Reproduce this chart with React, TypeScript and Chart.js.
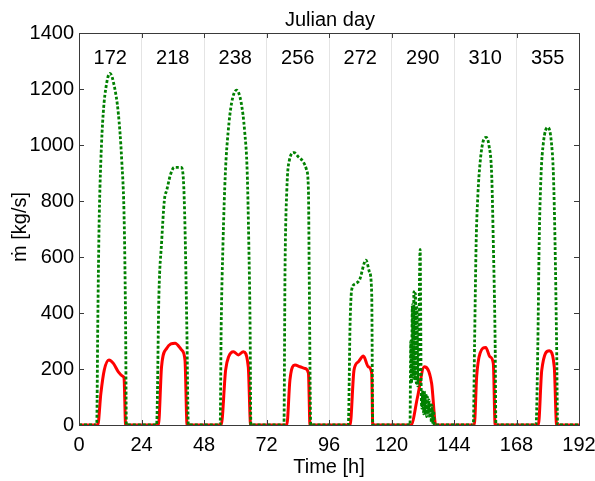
import React, { useEffect, useRef } from 'react';
import { Chart, registerables } from 'chart.js';

Chart.register(...registerables);

const dayLabels = ['172', '218', '238', '256', '272', '290', '310', '355'];
const dayCenters = [12, 36, 60, 84, 108, 132, 156, 180];
const xTickValues = [0, 24, 48, 72, 96, 120, 144, 168, 192];
const yTickValues = [0, 200, 400, 600, 800, 1000, 1200, 1400];

const titleText = 'Julian day';
const xTitleText = 'Time [h]';
const yTitleText = 'ṁ [kg/s]';

// Green dotted series (hours, kg/s)
const greenTime = [
  0, 6.8, 7.2, 7.7, 8.4, 9.3, 10.6, 11.9, 13.6, 15.1, 16.4, 17.4, 17.9, 18.2,
  29.8, 30.7, 31.7, 32.8, 33.7, 35.3, 36.6, 39.2, 40.1, 40.7, 41.4, 42.0,
  54.2, 54.6, 55.3, 56.2, 57.3, 58.6, 60.5, 62.3, 63.6, 64.6, 65.2, 65.7, 66.0,
  78.7, 79.1, 79.8, 80.8, 82.6, 84.2, 86.1, 87.4, 88.1, 88.4, 89.0,
  103.4, 104.1, 104.7, 106.0, 107.7, 110.2, 111.5, 112.4, 112.8,
  127.1, 127.4, 127.7, 128.0, 128.3, 128.6, 128.9, 129.2, 129.5, 129.8, 130.1, 130.5, 131.0, 131.4,
  131.7, 132.0, 132.3, 132.6, 132.9, 133.2, 133.5, 133.8, 134.1, 134.4, 134.7, 135.0, 135.3, 135.6,
  135.9, 136.2, 136.4,
  151.4, 151.9, 152.5, 153.2, 154.0, 155.0, 156.3, 157.4, 158.5, 159.1, 159.8, 160.1,
  175.5, 176.2, 176.7, 177.4, 178.3, 180.0, 181.3, 182.2, 182.8, 183.4, 183.8, 192,
];
const greenValues = [
  0, 0, 351, 708, 946, 1113, 1220, 1256, 1208, 1113, 946, 708, 351, 0,
  0, 470, 649, 804, 839, 899, 920, 920, 875, 708, 351, 0,
  0, 351, 650, 900, 1050, 1150, 1196, 1150, 1050, 900, 650, 351, 0,
  0, 542, 839, 946, 973, 958, 940, 911, 839, 542, 0,
  0, 363, 482, 504, 518, 589, 548, 470, 0,
  0, 300, 150, 430, 170, 476, 160, 470, 150, 420, 140, 350, 627, 130,
  60, 125, 40, 120, 35, 110, 30, 100, 35, 90, 25, 80, 10, 70,
  0, 50, 0,
  0, 292, 649, 827, 935, 1006, 1027, 1000, 887, 649, 292, 0,
  0, 292, 649, 887, 1006, 1063, 1018, 887, 649, 292, 0, 0,
];

// Red solid series (hours, kg/s)
const redTime = [
  0, 7.2, 8.4, 9.7, 11.5, 13.2, 15.1, 17.0, 17.3, 17.9,
  30.5, 31.7, 33.7, 36.9, 39.4, 40.7, 41.5,
  54.6, 56.3, 57.5, 59.3, 61.2, 63.1, 65.0, 65.9,
  79.8, 81.0, 82.9, 84.9, 86.8, 88.1, 88.7,
  104.1, 105.6, 107.3, 109.2, 111.1, 112.4, 112.8,
  127.5, 130.0, 132.6, 135.4, 137.0,
  151.8, 152.7, 154.0, 156.2, 157.8, 159.1, 159.8,
  176.4, 177.7, 180.6, 182.5, 183.4, 192,
];
const redValues = [
  0, 0, 113, 196, 232, 220, 190, 173, 168, 0,
  0, 208, 274, 292, 268, 232, 0,
  0, 196, 245, 262, 250, 262, 208, 0,
  0, 161, 214, 208, 202, 185, 0,
  0, 196, 226, 246, 208, 185, 0,
  0, 100, 208, 149, 0,
  0, 173, 256, 277, 244, 220, 0,
  0, 196, 265, 208, 0, 0,
];

const FONT = '"Liberation Sans", Arial, Helvetica, sans-serif';
const AXIS_COLOR = '#3a3a3a';

const decorPlugin = {
  id: 'decor',
  afterDatasetsDraw(chart: any) {
    const { ctx, chartArea } = chart;
    const xs = chart.scales.x;
    const ys = chart.scales.y;
    const { left, right, top, bottom } = chartArea;
    ctx.save();
    // box
    ctx.strokeStyle = AXIS_COLOR;
    ctx.lineWidth = 1;
    ctx.beginPath();
    ctx.moveTo(left + 0.5, bottom + 0.5);
    ctx.lineTo(left + 0.5, top + 0.5);
    ctx.lineTo(right + 0.5, top + 0.5);
    ctx.lineTo(right + 0.5, bottom + 0.5);
    ctx.stroke();
    // inward ticks
    ctx.beginPath();
    xTickValues.forEach((v) => {
      const px = Math.round(xs.getPixelForValue(v)) + 0.5;
      ctx.moveTo(px, bottom);
      ctx.lineTo(px, bottom - 5);
      ctx.moveTo(px, top);
      ctx.lineTo(px, top + 5);
    });
    yTickValues.forEach((v) => {
      const py = Math.round(ys.getPixelForValue(v)) + 0.5;
      ctx.moveTo(left, py);
      ctx.lineTo(left + 5, py);
      ctx.moveTo(right, py);
      ctx.lineTo(right - 5, py);
    });
    ctx.stroke();
    // day labels
    ctx.fillStyle = '#000';
    ctx.font = `20px ${FONT}`;
    ctx.textAlign = 'center';
    ctx.textBaseline = 'alphabetic';
    dayLabels.forEach((lab, i) => {
      ctx.fillText(lab, xs.getPixelForValue(dayCenters[i]), 64);
    });
    // titles
    const cx = (left + right) / 2;
    ctx.fillText(titleText, cx + 1, 26);
    ctx.fillText(xTitleText, cx, 473);
    ctx.translate(26, (top + bottom) / 2 - 2);
    ctx.rotate(-Math.PI / 2);
    ctx.fillText(yTitleText, 0, 0);
    ctx.restore();
  },
};

export default function App() {
  const ref = useRef<HTMLCanvasElement>(null);
  useEffect(() => {
    document.body.style.margin = '0';
    const canvas = ref.current;
    if (!canvas) return;
    const chart = new Chart(canvas, {
      type: 'line',
      data: {
        datasets: [
          {
            label: 'green',
            data: greenTime.map((t, i) => ({ x: t, y: greenValues[i] })),
            borderColor: '#008000',
            borderWidth: 2.8,
            borderDash: [3, 2],
            borderCapStyle: 'butt',
            pointRadius: 0,
            fill: false,
            cubicInterpolationMode: 'monotone',
          },
          {
            label: 'red',
            data: redTime.map((t, i) => ({ x: t, y: redValues[i] })),
            borderColor: '#ff0000',
            borderWidth: 3,
            pointRadius: 0,
            fill: false,
            cubicInterpolationMode: 'monotone',
          },
        ],
      },
      options: {
        responsive: false,
        animation: false,
        devicePixelRatio: 1,
        layout: { padding: { left: 0, right: 16, top: 33, bottom: 0 } },
        plugins: { legend: { display: false }, tooltip: { enabled: false }, title: { display: false } },
        scales: {
          x: {
            type: 'linear',
            min: 0,
            max: 192,
            afterBuildTicks: (s: any) => {
              s.ticks = xTickValues.map((v) => ({ value: v }));
            },
            afterFit: (s: any) => {
              s.height = 56;
              s.paddingLeft = 0;
              s.paddingRight = 0;
            },
            ticks: {
              color: '#000',
              font: { family: FONT, size: 20 },
              padding: 8,
              maxRotation: 0,
              autoSkip: false,
              callback: (v: any) => String(v),
            },
            grid: {
              drawTicks: false,
              color: (c: any) =>
                c.tick && (c.tick.value === 0 || c.tick.value === 192) ? 'rgba(0,0,0,0)' : '#e4e4e4',
              lineWidth: 1,
            },
            border: { display: true, color: AXIS_COLOR },
          },
          y: {
            type: 'linear',
            min: 0,
            max: 1400,
            afterBuildTicks: (s: any) => {
              s.ticks = yTickValues.map((v) => ({ value: v }));
            },
            afterFit: (s: any) => {
              s.width = 79;
              s.paddingTop = 0;
              s.paddingBottom = 0;
            },
            ticks: {
              color: '#000',
              font: { family: FONT, size: 20 },
              padding: 5,
              callback: (v: any) => String(v),
            },
            grid: { display: false, drawTicks: false },
            border: { display: true, color: AXIS_COLOR },
          },
        },
      },
      plugins: [decorPlugin],
    });
    return () => chart.destroy();
  }, []);
  return (
    <div style={{ width: 595, height: 481 }}>
      <canvas ref={ref} width={595} height={481} style={{ display: 'block' }} />
    </div>
  );
}
